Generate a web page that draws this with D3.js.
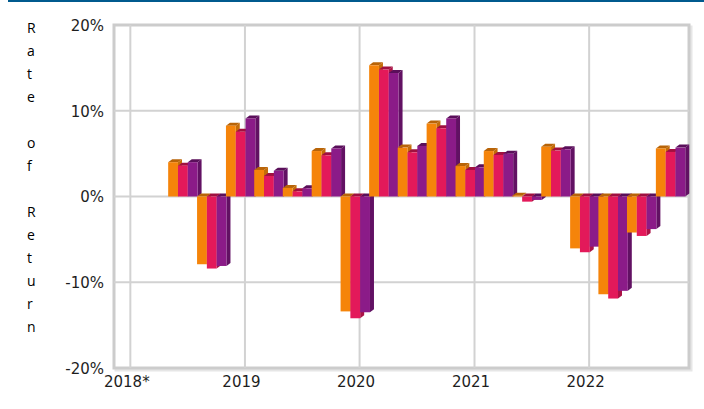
<!DOCTYPE html>
<html>
<head>
<meta charset="utf-8">
<script src="https://cdn.jsdelivr.net/npm/d3@7"></script>
<style>
  html, body { margin: 0; padding: 0; background: #fff; }
  svg { display: block; }
</style>
</head>
<body>
<svg id="chart" width="704" height="409"></svg>
<script>
// ---- data ----
const periods = ["2018-07-01","2018-10-01","2019-01-01","2019-04-01","2019-07-01","2019-10-01",
  "2020-01-01","2020-04-01","2020-07-01","2020-10-01","2021-01-01","2021-04-01",
  "2021-07-01","2021-10-01","2022-01-01","2022-04-01","2022-07-01","2022-10-01"];
const seriesA = [4.0, -7.9, 8.25, 3.1, 1.0, 5.3, -13.4, 15.3, 5.7, 8.5, 3.55, 5.3, 0.1, 5.8, -6.05, -11.4, -4.2, 5.6];
const seriesB = [3.6, -8.4, 7.55, 2.4, 0.6, 4.8, -14.2, 14.8, 5.15, 7.95, 3.1, 4.85, -0.6, 5.35, -6.5, -11.9, -4.6, 5.2];
const seriesC = [4.0, -8.1, 9.1, 3.0, 0.95, 5.6, -13.5, 14.4, 5.9, 9.1, 3.4, 5.0, -0.4, 5.5, -5.85, -11.0, -3.8, 5.7];
const yTicks = [-20, -10, 0, 10, 20];
const xTickYears = ["2018", "2019", "2020", "2021", "2022"];
const xTickLabels = ["2018*", "2019", "2020", "2021", "2022"];
const yTitle = "Rate of Return";

// ---- styles ----
const colors = [
  {front: "#f5840a", topc: "#b86408", side: "#c46c08"},
  {front: "#e3195a", topc: "#a01040", side: "#ab1246"},
  {front: "#8b1b88", topc: "#5a0f5a", side: "#621163"}
];

const svg = d3.select("#chart");
const parse = d3.timeParse("%Y-%m-%d");

const pL = 114, pR = 689, pT = 25, pB = 368;

const x = d3.scaleTime()
  .domain([parse("2017-11-10"), parse("2022-11-15")])
  .range([pL, pR]);
const y = d3.scaleLinear().domain([-20, 20]).range([pB, pT]);

// top blue rule
svg.append("line").attr("x1", 8).attr("x2", 704).attr("y1", 1).attr("y2", 1)
  .attr("stroke", "#005a8e").attr("stroke-width", 2);

// plot background + border shadow
svg.append("rect").attr("x", pL + 2).attr("y", pT + 2)
  .attr("width", pR - pL).attr("height", pB - pT)
  .attr("fill", "none").attr("stroke", "#e6e6e6").attr("stroke-width", 3);
svg.append("rect").attr("x", pL).attr("y", pT)
  .attr("width", pR - pL).attr("height", pB - pT)
  .attr("fill", "#fff").attr("stroke", "#cccccc").attr("stroke-width", 3);

// gridlines
const g = svg.append("g");
g.selectAll(".hg").data(yTicks.filter(d => d > -20 && d < 20)).enter().append("line")
  .attr("x1", pL).attr("x2", pR)
  .attr("y1", d => y(d)).attr("y2", d => y(d))
  .attr("stroke", "#d2d2d2").attr("stroke-width", 2);
const tickDates = xTickYears.map(t => parse(t + "-01-01"));
g.selectAll(".vg").data(tickDates).enter().append("line")
  .attr("x1", d => x(d)).attr("x2", d => x(d))
  .attr("y1", pT).attr("y2", pB)
  .attr("stroke", "#d2d2d2").attr("stroke-width", 2);

// y axis labels
const yAxis = d3.axisLeft(y).tickValues(yTicks).tickSize(0).tickPadding(0)
  .tickFormat(d => d + "%");
const ya = svg.append("g").attr("transform", `translate(${pL - 10},0)`).call(yAxis);
ya.select(".domain").remove();
ya.selectAll("text").attr("font-family", "DejaVu Sans").attr("font-size", 15)
  .attr("fill", "#1e1e1e").attr("dy", "0.35em");

// x axis labels
const xAxis = d3.axisBottom(x).tickValues(tickDates).tickSize(0).tickPadding(0)
  .tickFormat((d, i) => xTickLabels[i]);
const xa = svg.append("g").attr("transform", `translate(-4,${pB + 6})`).call(xAxis);
xa.select(".domain").remove();
xa.selectAll("text").attr("font-family", "DejaVu Sans").attr("font-size", 15)
  .attr("fill", "#1e1e1e").attr("dy", "0.85em");

// bars (pseudo-3D)
const series = [seriesA, seriesB, seriesC];
const bw = 9.8, dx = 4, dy = 3, groupOffset = -19;
const bars = svg.append("g");
periods.forEach((p, i) => {
  const cx = x(parse(p));
  series.forEach((s, k) => {
    const v = s[i];
    const x0 = cx + groupOffset + k * bw;
    const yTop = y(Math.max(v, 0)), yBot = y(Math.min(v, 0));
    const c = colors[k];
    bars.append("path")
      .attr("d", `M${x0 + bw},${yTop} L${x0 + bw + dx},${yTop - dy} L${x0 + bw + dx},${yBot - dy} L${x0 + bw},${yBot} Z`)
      .attr("fill", c.side);
    bars.append("path")
      .attr("d", `M${x0},${yTop} L${x0 + dx},${yTop - dy} L${x0 + bw + dx},${yTop - dy} L${x0 + bw},${yTop} Z`)
      .attr("fill", c.topc);
    bars.append("rect")
      .attr("x", x0).attr("y", yTop)
      .attr("width", bw).attr("height", Math.max(yBot - yTop, 0.5))
      .attr("fill", c.front);
  });
});

// y title stacked letters
const tt = svg.append("text").attr("font-family", "Open Sans").attr("font-size", 14).attr("fill", "#000");
yTitle.split("").forEach((ch, i) => {
  tt.append("tspan").attr("x", 27).attr("y", 33 + i * 23).text(ch === " " ? "\u00a0" : ch);
});
</script>
</body>
</html>
